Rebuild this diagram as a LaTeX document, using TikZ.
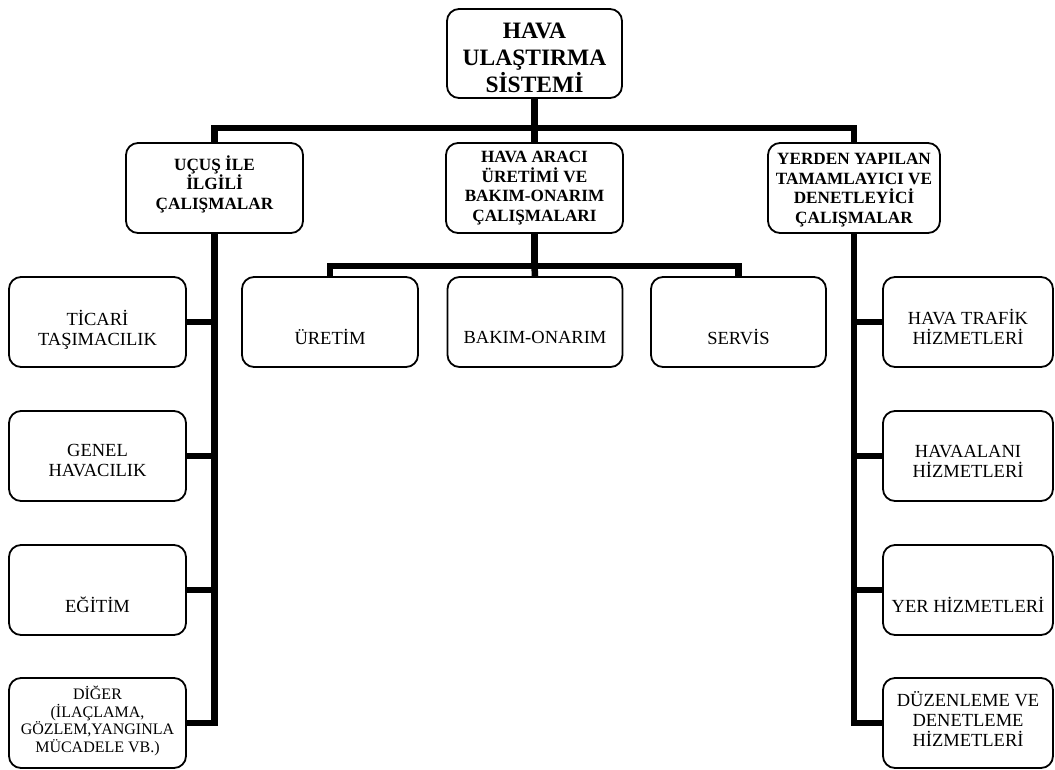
\documentclass[tikz,border=0pt]{standalone}
\usepackage{fontspec}
\setmainfont{Liberation Serif}
\begin{document}
\begin{tikzpicture}[x=1pt,y=-1pt,
  box/.style={draw, line width=1.8pt, rounded corners=12pt, fill=white, inner sep=0pt},
  wire/.style={line width=6.5pt, line join=miter, line cap=butt},
  headtxt/.style={align=center, font=\fontsize{23.5}{27}\selectfont\bfseries},
  grouptxt/.style={align=center, font=\fontsize{17.2}{19.5}\selectfont\bfseries},
  itemtxt/.style={align=center, font=\fontsize{18.5}{20}\selectfont},
  smalltxt/.style={align=center, font=\fontsize{16}{17.5}\selectfont}]
\useasboundingbox[fill=white] (0,0) rectangle (1055,769);

% root
\node[box, minimum width=175pt, minimum height=89pt] (root) at (534.5,53.5) {};
\node[headtxt] (root-t) at (534.5,58) {HAVA\\ULAŞTIRMA\\SİSTEMİ};

% second level
\node[box, minimum width=177pt, minimum height=90pt] (ucus) at (214.5,188) {};
\node[grouptxt] (ucus-t) at (214.5,184) {UÇUŞ İLE\\İLGİLİ\\ÇALIŞMALAR};
\node[box, minimum width=177pt, minimum height=90pt] (arac) at (534.5,188) {};
\node[grouptxt] (arac-t) at (534.5,188) {HAVA ARACI\\ÜRETİMİ VE\\BAKIM-ONARIM\\ÇALIŞMALARI};
\node[box, minimum width=172pt, minimum height=90pt] (yerden) at (854,188) {};
\node[grouptxt] (yerden-t) at (854,190) {YERDEN YAPILAN\\TAMAMLAYICI VE\\DENETLEYİCİ\\ÇALIŞMALAR};

% aircraft production branch
\node[box, minimum width=176pt, minimum height=90pt] (uretim) at (330,322) {};
\node[itemtxt] (uretim-t) at (330,337) {ÜRETİM};
\node[box, minimum width=175pt, minimum height=90pt] (bakim) at (535,322) {};
\node[itemtxt] (bakim-t) at (535,337) {BAKIM-ONARIM};
\node[box, minimum width=175pt, minimum height=90pt] (servis) at (738.5,322) {};
\node[itemtxt] (servis-t) at (738.5,337) {SERVİS};

% flight operations branch
\node[box, minimum width=177pt, minimum height=90pt] (ticari) at (97.5,322) {};
\node[itemtxt] (ticari-t) at (97.5,330) {TİCARİ\\TAŞIMACILIK};
\node[box, minimum width=177pt, minimum height=90pt] (genel) at (97.5,456) {};
\node[itemtxt] (genel-t) at (97.5,461) {GENEL\\HAVACILIK};
\node[box, minimum width=177pt, minimum height=90pt] (egitim) at (97.5,590) {};
\node[itemtxt] (egitim-t) at (97.5,605) {EĞİTİM};
\node[box, minimum width=177pt, minimum height=90pt] (diger) at (97.5,723) {};
\node[smalltxt] (diger-t) at (97.5,721) {DİĞER\\(İLAÇLAMA,\\GÖZLEM,YANGINLA\\MÜCADELE VB.)};

% ground services branch
\node[box, minimum width=170pt, minimum height=90pt] (trafik) at (968,322) {};
\node[itemtxt] (trafik-t) at (968,327) {HAVA TRAFİK\\HİZMETLERİ};
\node[box, minimum width=170pt, minimum height=90pt] (havaalani) at (968,456) {};
\node[itemtxt] (havaalani-t) at (968,461) {HAVAALANI\\HİZMETLERİ};
\node[box, minimum width=170pt, minimum height=90pt] (yer) at (968,590) {};
\node[itemtxt] (yer-t) at (968,605) {YER HİZMETLERİ};
\node[box, minimum width=170pt, minimum height=90pt] (duzen) at (968,723) {};
\node[itemtxt] (duzen-t) at (968,719) {DÜZENLEME VE\\DENETLEME\\HİZMETLERİ};

% bus junctions
\coordinate (bus) at (534.5,128);
\coordinate (bus2) at (534.5,266);

% connectors
\draw[wire] (root.south) -- (bus);
\draw[wire] (ucus.north) |- (bus) -| (yerden.north);
\draw[wire] (bus) -- (arac.north);

\draw[wire] (arac.south) -- (bus2);
\draw[wire] (uretim.north) |- (bus2) -| (servis.north);
\draw[wire] (bus2) -- (bakim.north);

\draw[wire] (ucus.south) |- (diger.east);
\draw[wire] (ucus.south) |- (ticari.east);
\draw[wire] (ucus.south) |- (genel.east);
\draw[wire] (ucus.south) |- (egitim.east);

\draw[wire] (yerden.south) |- (duzen.west);
\draw[wire] (yerden.south) |- (trafik.west);
\draw[wire] (yerden.south) |- (havaalani.west);
\draw[wire] (yerden.south) |- (yer.west);
\end{tikzpicture}
\end{document}
